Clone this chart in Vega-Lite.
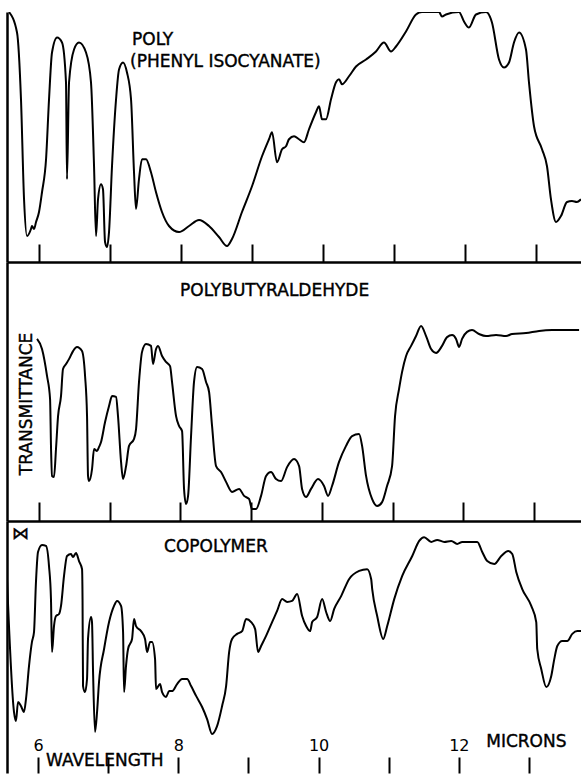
{
  "$schema": "https://vega.github.io/schema/vega-lite/v6.json",
  "background": "white",
  "padding": {"left": 7, "top": 12, "right": 0, "bottom": 0},
  "bounds": "flush",
  "spacing": 0,
  "config": {
    "view": {"stroke": null},
    "font": "DejaVu Sans",
    "axis": {"grid": false, "domainColor": "black", "tickColor": "black", "labelColor": "black"}
  },
  "resolve": {"scale": {"x": "independent", "y": "independent"}},
  "vconcat": [
    {
      "width": 574,
      "height": 250,
      "layer": [
        {
          "mark": {"type": "rule", "color": "black", "strokeWidth": 2.5},
          "encoding": {"y": {"datum": 100, "type": "quantitative", "scale": {"domain": [0, 100], "nice": false}}}
        },
        {
          "data": {"values": [
            {"wavelength":5.577,"transmittance":100},{"wavelength":5.690,"transmittance":91.8},{"wavelength":5.746,"transmittance":65.1},{"wavelength":5.789,"transmittance":25.1},{"wavelength":5.831,"transmittance":10.4},{"wavelength":5.887,"transmittance":13.2},{"wavelength":5.901,"transmittance":14.4},{"wavelength":5.930,"transmittance":13.2},{"wavelength":5.958,"transmittance":16.0},{"wavelength":6.000,"transmittance":20.0},{"wavelength":6.042,"transmittance":27.9},{"wavelength":6.099,"transmittance":41.1},{"wavelength":6.141,"transmittance":65.1},{"wavelength":6.183,"transmittance":83.8},{"wavelength":6.254,"transmittance":89.8},{"wavelength":6.324,"transmittance":87.8},{"wavelength":6.380,"transmittance":71.9},{"wavelength":6.394,"transmittance":33.1},{"wavelength":6.423,"transmittance":71.9},{"wavelength":6.493,"transmittance":85.0},{"wavelength":6.563,"transmittance":87.8},{"wavelength":6.662,"transmittance":83.8},{"wavelength":6.732,"transmittance":71.9},{"wavelength":6.775,"transmittance":38.3},{"wavelength":6.803,"transmittance":10.4},{"wavelength":6.831,"transmittance":25.1},{"wavelength":6.873,"transmittance":31.1},{"wavelength":6.901,"transmittance":29.1},{"wavelength":6.930,"transmittance":8.0},{"wavelength":6.958,"transmittance":6.0},{"wavelength":6.986,"transmittance":12.0},{"wavelength":7.028,"transmittance":38.3},{"wavelength":7.085,"transmittance":65.1},{"wavelength":7.127,"transmittance":77.0},{"wavelength":7.183,"transmittance":79.8},{"wavelength":7.239,"transmittance":75.8},{"wavelength":7.296,"transmittance":65.1},{"wavelength":7.338,"transmittance":35.9},{"wavelength":7.366,"transmittance":21.2},{"wavelength":7.408,"transmittance":33.1},{"wavelength":7.451,"transmittance":41.1},{"wavelength":7.507,"transmittance":41.1},{"wavelength":7.577,"transmittance":35.9},{"wavelength":7.648,"transmittance":27.9},{"wavelength":7.732,"transmittance":20.0},{"wavelength":7.831,"transmittance":14.4},{"wavelength":7.972,"transmittance":12.0},{"wavelength":8.113,"transmittance":14.4},{"wavelength":8.254,"transmittance":16.8},{"wavelength":8.394,"transmittance":14.4},{"wavelength":8.535,"transmittance":10.0},{"wavelength":8.648,"transmittance":6.4},{"wavelength":8.718,"transmittance":9.2},{"wavelength":8.859,"transmittance":20.0},{"wavelength":9.000,"transmittance":30.3},{"wavelength":9.141,"transmittance":42.3},{"wavelength":9.239,"transmittance":49.1},{"wavelength":9.282,"transmittance":51.9},{"wavelength":9.352,"transmittance":39.9},{"wavelength":9.423,"transmittance":45.1},{"wavelength":9.479,"transmittance":46.3},{"wavelength":9.521,"transmittance":49.1},{"wavelength":9.592,"transmittance":50.3},{"wavelength":9.662,"transmittance":49.1},{"wavelength":9.732,"transmittance":47.9},{"wavelength":9.803,"transmittance":53.1},{"wavelength":9.901,"transmittance":59.9},{"wavelength":9.944,"transmittance":62.3},{"wavelength":9.986,"transmittance":57.1},{"wavelength":10.042,"transmittance":57.1},{"wavelength":10.113,"transmittance":65.1},{"wavelength":10.183,"transmittance":71.9},{"wavelength":10.225,"transmittance":73.1},{"wavelength":10.268,"transmittance":71.1},{"wavelength":10.366,"transmittance":74.3},{"wavelength":10.465,"transmittance":78.2},{"wavelength":10.606,"transmittance":81.0},{"wavelength":10.746,"transmittance":84.2},{"wavelength":10.859,"transmittance":87.8},{"wavelength":10.958,"transmittance":84.2},{"wavelength":11.028,"transmittance":86.2},{"wavelength":11.169,"transmittance":92.2},{"wavelength":11.310,"transmittance":99.0},{"wavelength":11.394,"transmittance":100},{"wavelength":11.634,"transmittance":100},{"wavelength":11.676,"transmittance":98.2},{"wavelength":11.732,"transmittance":99.0},{"wavelength":11.915,"transmittance":100},{"wavelength":11.986,"transmittance":96.2},{"wavelength":12.056,"transmittance":93.8},{"wavelength":12.155,"transmittance":99.0},{"wavelength":12.296,"transmittance":100},{"wavelength":12.380,"transmittance":95.8},{"wavelength":12.479,"transmittance":81.0},{"wavelength":12.549,"transmittance":77.8},{"wavelength":12.620,"transmittance":79.8},{"wavelength":12.690,"transmittance":87.8},{"wavelength":12.761,"transmittance":91.8},{"wavelength":12.859,"transmittance":85.0},{"wavelength":12.901,"transmittance":71.9},{"wavelength":12.972,"transmittance":54.3},{"wavelength":13.085,"transmittance":45.1},{"wavelength":13.155,"transmittance":38.3},{"wavelength":13.211,"transmittance":25.1},{"wavelength":13.282,"transmittance":16.0},{"wavelength":13.352,"transmittance":18.4},{"wavelength":13.437,"transmittance":24.0},{"wavelength":13.507,"transmittance":24.4},{"wavelength":13.577,"transmittance":24.0},{"wavelength":13.634,"transmittance":25.1}
          ]},
          "mark": {"type": "line", "color": "black", "strokeWidth": 2, "interpolate": "monotone", "clip": true},
          "encoding": {
            "x": {"field": "wavelength", "type": "quantitative", "scale": {"domain": [5.549, 13.634], "nice": false, "zero": false},
              "axis": {"orient": "bottom", "values": [6,7,8,9,10,11,12,13], "tickSize": -18, "tickWidth": 2, "domainWidth": 2.5, "labels": false, "title": null}},
            "y": {"field": "transmittance", "type": "quantitative", "scale": {"domain": [0, 100], "nice": false},
              "axis": {"orient": "left", "domainWidth": 2.5, "ticks": false, "labels": false, "title": null}}
          }
        },
        {
          "data": {"values": [
            {"label": "POLY", "wavelength": 7.31, "transmittance": 87.0},
            {"label": "(PHENYL ISOCYANATE)", "wavelength": 7.282, "transmittance": 78.2}
          ]},
          "mark": {"type": "text", "align": "left", "baseline": "alphabetic", "fontSize": 17, "font": "DejaVu Sans", "color": "black", "stroke": "black", "strokeWidth": 0.4},
          "encoding": {
            "x": {"field": "wavelength", "type": "quantitative"},
            "y": {"field": "transmittance", "type": "quantitative"},
            "text": {"field": "label"}
          }
        }
      ]
    },
    {
      "width": 574,
      "height": 259,
      "layer": [
        {
          "data": {"values": [
            {"wavelength":5.972,"transmittance":70.3},{"wavelength":6.042,"transmittance":66.4},{"wavelength":6.113,"transmittance":56.0},{"wavelength":6.156,"transmittance":47.1},{"wavelength":6.170,"transmittance":27.8},{"wavelength":6.184,"transmittance":17.4},{"wavelength":6.212,"transmittance":17.0},{"wavelength":6.240,"transmittance":27.8},{"wavelength":6.269,"transmittance":40.5},{"wavelength":6.311,"transmittance":48.3},{"wavelength":6.339,"transmittance":58.7},{"wavelength":6.382,"transmittance":60.6},{"wavelength":6.424,"transmittance":62.5},{"wavelength":6.481,"transmittance":65.6},{"wavelength":6.537,"transmittance":67.2},{"wavelength":6.608,"transmittance":65.6},{"wavelength":6.651,"transmittance":56.0},{"wavelength":6.679,"transmittance":40.5},{"wavelength":6.693,"transmittance":17.4},{"wavelength":6.707,"transmittance":15.4},{"wavelength":6.750,"transmittance":20.1},{"wavelength":6.778,"transmittance":27.8},{"wavelength":6.820,"transmittance":27.0},{"wavelength":6.849,"transmittance":28.6},{"wavelength":6.877,"transmittance":30.5},{"wavelength":6.934,"transmittance":38.2},{"wavelength":6.990,"transmittance":44.4},{"wavelength":7.033,"transmittance":48.3},{"wavelength":7.089,"transmittance":47.9},{"wavelength":7.117,"transmittance":40.5},{"wavelength":7.160,"transmittance":22.8},{"wavelength":7.188,"transmittance":16.2},{"wavelength":7.231,"transmittance":21.2},{"wavelength":7.273,"transmittance":29.0},{"wavelength":7.344,"transmittance":31.7},{"wavelength":7.372,"transmittance":35.5},{"wavelength":7.414,"transmittance":53.7},{"wavelength":7.457,"transmittance":65.3},{"wavelength":7.513,"transmittance":68.3},{"wavelength":7.584,"transmittance":67.6},{"wavelength":7.612,"transmittance":60.6},{"wavelength":7.655,"transmittance":66.4},{"wavelength":7.683,"transmittance":67.6},{"wavelength":7.740,"transmittance":63.7},{"wavelength":7.796,"transmittance":61.4},{"wavelength":7.853,"transmittance":59.8},{"wavelength":7.881,"transmittance":53.7},{"wavelength":7.938,"transmittance":40.5},{"wavelength":7.980,"transmittance":36.7},{"wavelength":8.023,"transmittance":34.7},{"wavelength":8.051,"transmittance":12.4},{"wavelength":8.079,"transmittance":6.6},{"wavelength":8.108,"transmittance":9.7},{"wavelength":8.150,"transmittance":32.8},{"wavelength":8.192,"transmittance":53.7},{"wavelength":8.235,"transmittance":59.5},{"wavelength":8.306,"transmittance":58.7},{"wavelength":8.362,"transmittance":53.7},{"wavelength":8.405,"transmittance":49.8},{"wavelength":8.447,"transmittance":36.7},{"wavelength":8.504,"transmittance":21.2},{"wavelength":8.574,"transmittance":18.9},{"wavelength":8.645,"transmittance":15.1},{"wavelength":8.730,"transmittance":11.2},{"wavelength":8.829,"transmittance":12.4},{"wavelength":8.900,"transmittance":9.7},{"wavelength":8.970,"transmittance":8.5},{"wavelength":9.013,"transmittance":4.6},{"wavelength":9.069,"transmittance":4.6},{"wavelength":9.140,"transmittance":9.7},{"wavelength":9.211,"transmittance":17.4},{"wavelength":9.281,"transmittance":18.9},{"wavelength":9.352,"transmittance":16.2},{"wavelength":9.423,"transmittance":15.4},{"wavelength":9.508,"transmittance":20.8},{"wavelength":9.607,"transmittance":23.9},{"wavelength":9.678,"transmittance":21.2},{"wavelength":9.720,"transmittance":12.4},{"wavelength":9.777,"transmittance":9.3},{"wavelength":9.847,"transmittance":12.4},{"wavelength":9.946,"transmittance":16.2},{"wavelength":10.031,"transmittance":13.5},{"wavelength":10.088,"transmittance":9.7},{"wavelength":10.144,"transmittance":13.5},{"wavelength":10.243,"transmittance":22.8},{"wavelength":10.342,"transmittance":29.0},{"wavelength":10.427,"transmittance":32.8},{"wavelength":10.526,"transmittance":33.6},{"wavelength":10.569,"transmittance":29.0},{"wavelength":10.625,"transmittance":17.4},{"wavelength":10.710,"transmittance":8.5},{"wavelength":10.781,"transmittance":5.8},{"wavelength":10.852,"transmittance":7.3},{"wavelength":10.922,"transmittance":13.5},{"wavelength":10.993,"transmittance":21.2},{"wavelength":11.035,"transmittance":40.5},{"wavelength":11.092,"transmittance":51.0},{"wavelength":11.134,"transmittance":57.5},{"wavelength":11.191,"transmittance":63.7},{"wavelength":11.262,"transmittance":67.6},{"wavelength":11.332,"transmittance":71.4},{"wavelength":11.403,"transmittance":75.3},{"wavelength":11.474,"transmittance":71.4},{"wavelength":11.545,"transmittance":66.4},{"wavelength":11.615,"transmittance":64.9},{"wavelength":11.700,"transmittance":67.6},{"wavelength":11.771,"transmittance":71.0},{"wavelength":11.842,"transmittance":71.8},{"wavelength":11.898,"transmittance":70.3},{"wavelength":11.941,"transmittance":67.2},{"wavelength":11.983,"transmittance":70.3},{"wavelength":12.054,"transmittance":73.0},{"wavelength":12.124,"transmittance":73.7},{"wavelength":12.223,"transmittance":72.2},{"wavelength":12.322,"transmittance":71.4},{"wavelength":12.464,"transmittance":71.8},{"wavelength":12.605,"transmittance":71.4},{"wavelength":12.690,"transmittance":72.2},{"wavelength":12.888,"transmittance":72.6},{"wavelength":13.072,"transmittance":73.4},{"wavelength":13.256,"transmittance":73.7},{"wavelength":13.454,"transmittance":73.7},{"wavelength":13.638,"transmittance":73.7}
          ]},
          "mark": {"type": "line", "color": "black", "strokeWidth": 2, "interpolate": "monotone", "clip": true},
          "encoding": {
            "x": {"field": "wavelength", "type": "quantitative", "scale": {"domain": [5.547, 13.665], "nice": false, "zero": false},
              "axis": {"orient": "bottom", "values": [6,7,8,9,10,11,12,13], "tickSize": -19, "tickWidth": 2, "domainWidth": 2.5, "labels": false, "title": null}},
            "y": {"field": "transmittance", "type": "quantitative", "scale": {"domain": [0, 100], "nice": false},
              "axis": {"orient": "left", "domainWidth": 2.5, "ticks": false, "labels": false, "title": null}}
          }
        },
        {
          "data": {"values": [
            {"label": "POLYBUTYRALDEHYDE", "wavelength": 7.994, "transmittance": 86.9}
          ]},
          "mark": {"type": "text", "align": "left", "baseline": "alphabetic", "fontSize": 17, "font": "DejaVu Sans", "color": "black", "stroke": "black", "strokeWidth": 0.4},
          "encoding": {
            "x": {"field": "wavelength", "type": "quantitative"},
            "y": {"field": "transmittance", "type": "quantitative"},
            "text": {"field": "label"}
          }
        },
        {
          "data": {"values": [
            {"label": "TRANSMITTANCE", "wavelength": 5.901, "transmittance": 45.2}
          ]},
          "mark": {"type": "text", "align": "center", "baseline": "alphabetic", "angle": 270, "fontSize": 17, "font": "DejaVu Sans", "color": "black", "stroke": "black", "strokeWidth": 0.4},
          "encoding": {
            "x": {"field": "wavelength", "type": "quantitative"},
            "y": {"field": "transmittance", "type": "quantitative"},
            "text": {"field": "label"}
          }
        }
      ]
    },
    {
      "width": 574,
      "height": 252,
      "layer": [
        {
          "data": {"values": [
            {"wavelength":5.558,"transmittance":77.0},{"wavelength":5.658,"transmittance":24.2},{"wavelength":5.686,"transmittance":20.6},{"wavelength":5.715,"transmittance":28.2},{"wavelength":5.757,"transmittance":26.6},{"wavelength":5.800,"transmittance":24.2},{"wavelength":5.829,"transmittance":29.4},{"wavelength":5.872,"transmittance":42.5},{"wavelength":5.914,"transmittance":52.0},{"wavelength":5.943,"transmittance":55.9},{"wavelength":5.971,"transmittance":75.8},{"wavelength":6.000,"transmittance":87.7},{"wavelength":6.057,"transmittance":90.5},{"wavelength":6.114,"transmittance":90.1},{"wavelength":6.157,"transmittance":82.1},{"wavelength":6.185,"transmittance":69.0},{"wavelength":6.200,"transmittance":48.0},{"wavelength":6.228,"transmittance":58.3},{"wavelength":6.257,"transmittance":62.3},{"wavelength":6.300,"transmittance":63.1},{"wavelength":6.328,"transmittance":66.3},{"wavelength":6.371,"transmittance":78.2},{"wavelength":6.414,"transmittance":86.1},{"wavelength":6.471,"transmittance":86.9},{"wavelength":6.499,"transmittance":85.7},{"wavelength":6.542,"transmittance":87.3},{"wavelength":6.585,"transmittance":84.1},{"wavelength":6.628,"transmittance":80.9},{"wavelength":6.635,"transmittance":69.0},{"wavelength":6.642,"transmittance":34.5},{"wavelength":6.670,"transmittance":32.1},{"wavelength":6.699,"transmittance":37.3},{"wavelength":6.713,"transmittance":53.2},{"wavelength":6.756,"transmittance":61.9},{"wavelength":6.770,"transmittance":59.9},{"wavelength":6.785,"transmittance":40.1},{"wavelength":6.813,"transmittance":16.3},{"wavelength":6.842,"transmittance":24.2},{"wavelength":6.870,"transmittance":36.1},{"wavelength":6.942,"transmittance":49.2},{"wavelength":7.013,"transmittance":59.9},{"wavelength":7.084,"transmittance":66.3},{"wavelength":7.127,"transmittance":68.3},{"wavelength":7.184,"transmittance":66.3},{"wavelength":7.213,"transmittance":55.9},{"wavelength":7.227,"transmittance":32.1},{"wavelength":7.255,"transmittance":42.5},{"wavelength":7.284,"transmittance":49.2},{"wavelength":7.341,"transmittance":53.2},{"wavelength":7.369,"transmittance":61.1},{"wavelength":7.398,"transmittance":58.3},{"wavelength":7.469,"transmittance":56.3},{"wavelength":7.526,"transmittance":53.2},{"wavelength":7.555,"transmittance":48.0},{"wavelength":7.598,"transmittance":52.0},{"wavelength":7.626,"transmittance":52.0},{"wavelength":7.669,"transmittance":45.2},{"wavelength":7.683,"transmittance":33.3},{"wavelength":7.740,"transmittance":35.3},{"wavelength":7.769,"transmittance":32.1},{"wavelength":7.826,"transmittance":30.2},{"wavelength":7.869,"transmittance":32.5},{"wavelength":7.912,"transmittance":32.5},{"wavelength":7.983,"transmittance":35.3},{"wavelength":8.054,"transmittance":37.3},{"wavelength":8.126,"transmittance":37.3},{"wavelength":8.183,"transmittance":34.5},{"wavelength":8.254,"transmittance":30.6},{"wavelength":8.340,"transmittance":26.2},{"wavelength":8.411,"transmittance":21.4},{"wavelength":8.482,"transmittance":15.5},{"wavelength":8.553,"transmittance":18.6},{"wavelength":8.625,"transmittance":26.6},{"wavelength":8.682,"transmittance":34.5},{"wavelength":8.725,"transmittance":48.0},{"wavelength":8.767,"transmittance":53.2},{"wavelength":8.839,"transmittance":55.2},{"wavelength":8.910,"transmittance":56.3},{"wavelength":8.967,"transmittance":61.1},{"wavelength":9.039,"transmittance":59.9},{"wavelength":9.096,"transmittance":57.1},{"wavelength":9.138,"transmittance":48.0},{"wavelength":9.181,"transmittance":50.4},{"wavelength":9.252,"transmittance":54.4},{"wavelength":9.338,"transmittance":59.9},{"wavelength":9.409,"transmittance":64.3},{"wavelength":9.481,"transmittance":69.0},{"wavelength":9.552,"transmittance":67.9},{"wavelength":9.623,"transmittance":68.3},{"wavelength":9.695,"transmittance":71.0},{"wavelength":9.766,"transmittance":62.3},{"wavelength":9.823,"transmittance":58.3},{"wavelength":9.880,"transmittance":56.3},{"wavelength":9.909,"transmittance":59.9},{"wavelength":9.980,"transmittance":61.9},{"wavelength":10.051,"transmittance":69.0},{"wavelength":10.108,"transmittance":63.9},{"wavelength":10.165,"transmittance":60.3},{"wavelength":10.223,"transmittance":65.1},{"wavelength":10.322,"transmittance":70.2},{"wavelength":10.437,"transmittance":77.0},{"wavelength":10.579,"transmittance":80.2},{"wavelength":10.693,"transmittance":80.9},{"wavelength":10.750,"transmittance":77.0},{"wavelength":10.765,"transmittance":73.0},{"wavelength":10.836,"transmittance":62.3},{"wavelength":10.922,"transmittance":53.2},{"wavelength":10.979,"transmittance":58.3},{"wavelength":11.079,"transmittance":69.0},{"wavelength":11.193,"transmittance":78.2},{"wavelength":11.336,"transmittance":86.1},{"wavelength":11.435,"transmittance":92.1},{"wavelength":11.506,"transmittance":93.6},{"wavelength":11.606,"transmittance":91.7},{"wavelength":11.692,"transmittance":92.5},{"wavelength":11.792,"transmittance":91.7},{"wavelength":11.892,"transmittance":92.1},{"wavelength":11.977,"transmittance":90.9},{"wavelength":12.049,"transmittance":91.7},{"wavelength":12.177,"transmittance":91.7},{"wavelength":12.263,"transmittance":91.7},{"wavelength":12.334,"transmittance":87.7},{"wavelength":12.405,"transmittance":84.1},{"wavelength":12.505,"transmittance":82.9},{"wavelength":12.605,"transmittance":86.1},{"wavelength":12.705,"transmittance":88.1},{"wavelength":12.762,"transmittance":86.9},{"wavelength":12.819,"transmittance":79.8},{"wavelength":12.904,"transmittance":73.0},{"wavelength":13.033,"transmittance":66.3},{"wavelength":13.104,"transmittance":59.9},{"wavelength":13.118,"transmittance":49.2},{"wavelength":13.175,"transmittance":41.3},{"wavelength":13.247,"transmittance":34.1},{"wavelength":13.318,"transmittance":38.5},{"wavelength":13.361,"transmittance":45.2},{"wavelength":13.404,"transmittance":50.4},{"wavelength":13.475,"transmittance":52.4},{"wavelength":13.546,"transmittance":52.4},{"wavelength":13.618,"transmittance":55.2},{"wavelength":13.689,"transmittance":56.3},{"wavelength":13.746,"transmittance":56.3}
          ]},
          "mark": {"type": "line", "color": "black", "strokeWidth": 2, "interpolate": "monotone", "clip": true},
          "encoding": {
            "x": {"field": "wavelength", "type": "quantitative", "scale": {"domain": [5.558, 13.742], "nice": false, "zero": false},
              "axis": {"orient": "bottom", "values": [6,7,8,9,10,11,12,13], "format": "d", "tickSize": -16, "tickWidth": 2, "domain": false,
                "labels": true, "labelExpr": "datum.value % 2 === 0 ? datum.label : ''", "labelPadding": -7, "labelBaseline": "alphabetic",
                "labelFontSize": 16, "labelFont": "DejaVu Sans", "labelOverlap": false, "labelFlush": false, "title": null}},
            "y": {"field": "transmittance", "type": "quantitative", "scale": {"domain": [0, 100], "nice": false},
              "axis": {"orient": "left", "domainWidth": 2.5, "ticks": false, "labels": false, "title": null}}
          }
        },
        {
          "data": {"values": [
            {"label": "COPOLYMER", "wavelength": 7.797, "transmittance": 87.7},
            {"label": "⋈", "wavelength": 5.629, "transmittance": 92.9},
            {"label": "WAVELENGTH", "wavelength": 6.114, "transmittance": 2.8},
            {"label": "MICRONS", "wavelength": 12.391, "transmittance": 10.3}
          ]},
          "mark": {"type": "text", "align": "left", "baseline": "alphabetic", "fontSize": 17, "font": "DejaVu Sans", "color": "black", "stroke": "black", "strokeWidth": 0.4},
          "encoding": {
            "x": {"field": "wavelength", "type": "quantitative"},
            "y": {"field": "transmittance", "type": "quantitative"},
            "text": {"field": "label"}
          }
        }
      ]
    }
  ]
}
